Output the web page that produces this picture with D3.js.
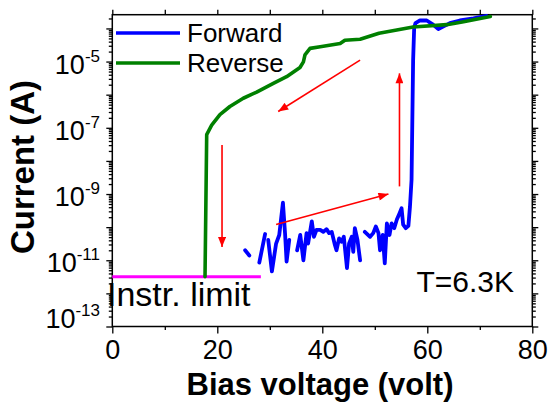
<!DOCTYPE html>
<html><head><meta charset="utf-8">
<script src="https://cdn.jsdelivr.net/npm/d3@7"></script>
<style>
body{margin:0;background:#fff}
svg{display:block}
text{font-family:"Liberation Sans",Arial,Helvetica,sans-serif;fill:#000}
</style>
</head><body>
<svg id="chart" width="552" height="404"></svg>
<script>
// ---- data ----
const xTickValues = [0, 20, 40, 60, 80];
const xMinorTicks = [10, 30, 50, 70];
const yLabelExps = [-5, -7, -9, -11, -13];

// Forward sweep (null = gap in data)
const fwdV = [25.3,26.1,26.8, 28.0,29.1,29.4, 29.7,30.4,31.2,31.8,32.5,32.9,33.2,33.7,34.5,
  35.2,35.8,36.4,37.0,37.3,38.0,38.4,38.9,39.6,40.2,40.8,41.3,41.8,42.4,42.7,43.2,43.7,44.1,44.7,45.1,45.6,45.9,46.2,46.7,47.2,47.6,
  48.1,49.1,49.7,50.2,50.7,51.0,51.5,51.9,52.3,52.8,53.2,53.7,54.2,54.7,55.1,55.4,55.9,56.4,56.7,57.0,57.3,57.5,57.75,58.6,59.9,61.1,62.1,63.1,64.3,66.2,68.8,71.3];
const fwdI = [2.0e-11,1.4e-11,null, 8.5e-12,6.2e-11,null, 4.1e-11,4.6e-12,3.2e-11,5.8e-11,5.5e-10,6.6e-11,9.1e-12,4.1e-11,null,
  2.0e-11,5.8e-11,1.0e-11,6.6e-11,3.2e-11,1.5e-10,5.1e-11,8.3e-11,8.3e-11,7.2e-11,8.7e-11,6.6e-11,7.2e-11,2.9e-11,2.0e-11,4.6e-11,3.6e-11,5.1e-11,5.8e-12,3.2e-11,5.1e-11,1.8e-11,9.3e-11,4.1e-11,1.0e-11,null,
  7.2e-11,5.1e-11,6.6e-11,1.05e-10,6.6e-11,2.0e-11,5.8e-11,8.1e-12,1.3e-10,5.8e-11,1.3e-10,9.3e-11,1.7e-10,2.6e-10,3.7e-10,1.2e-10,9.3e-11,1.1e-10,4.2e-10,2.7e-9,1.1e-5,1.05e-4,1.45e-4,1.74e-4,1.74e-4,1.3e-4,9.5e-5,1.15e-4,1.45e-4,1.74e-4,2.0e-4,2.4e-4];

// Reverse sweep
const revV = [17.66,17.98,18.93,20.5,22.4,24.95,27.5,30.67,33.2,35.75,36.4,36.7,37.66,39.6,43.4,44.3,47.2,50.8,57.3,63.7,66.9,72.0];
const revI = [3.2e-12,6.2e-8,1.2e-7,2.5e-7,4.4e-7,7.8e-7,1.2e-6,2.2e-6,3.5e-6,6.6e-6,9.8e-6,1.6e-5,2.5e-5,2.8e-5,3.5e-5,4.4e-5,4.7e-5,7.2e-5,1.1e-4,1.3e-4,1.6e-4,2.3e-4];

// Instrument limit
const limitV = [0, 28.3];
const limitI = [3.2e-12, 3.2e-12];

// Red arrows (start -> end)
const arrowV0 = [47.2, 20.9, 31.2, 54.7];
const arrowI0 = [1.1e-5, 3.0e-8, 1.2e-10, 1.7e-9];
const arrowV1 = [31.6, 20.9, 52.6, 54.7];
const arrowI1 = [3.1e-7, 2.5e-11, 1.0e-9, 4.4e-6];

const seriesNames = ["Forward", "Reverse"];
const seriesColors = ["#0000ff", "#008000"];

// ---- chart ----
const svg = d3.select("#chart");
const x = d3.scaleLinear().domain([0, 80]).range([112.3, 532.3]);
const y = d3.scaleLog().domain([1e-13, 2.6e-4]).range([326.5, 14.7]);

const majorY = d3.range(-13, -3).map(e => Math.pow(10, e));
const minorY = [];
for (let e = -13; e <= -4; e++) for (let m = 2; m <= 9; m++) {
  const v = m * Math.pow(10, e);
  if (v <= 2.6e-4) minorY.push(v);
}

function styleAxis(g) {
  g.select(".domain").remove();
  g.selectAll("line").attr("stroke", "#000").attr("stroke-width", 1.3);
}
// bottom
svg.append("g").attr("transform", `translate(0,${y.range()[0]})`)
  .call(d3.axisBottom(x).tickValues(xMinorTicks).tickSize(3.5).tickFormat("")).call(styleAxis);
const gx = svg.append("g").attr("transform", `translate(0,${y.range()[0]})`)
  .call(d3.axisBottom(x).tickValues(xTickValues).tickSize(7).tickPadding(6).tickFormat(d3.format("d")));
styleAxis(gx);
gx.selectAll("text").attr("font-size", 27).attr("font-family", '"Liberation Sans",Arial,sans-serif').attr("fill", "#000");
// top
svg.append("g").attr("transform", `translate(0,${y.range()[1]})`)
  .call(d3.axisTop(x).tickValues(d3.range(0, 81, 10)).tickSize(5).tickFormat("")).call(styleAxis);
// left
svg.append("g").attr("transform", `translate(${x.range()[0]},0)`)
  .call(d3.axisLeft(y).tickValues(majorY).tickSize(6).tickFormat("")).call(styleAxis);
svg.append("g").attr("transform", `translate(${x.range()[0]},0)`)
  .call(d3.axisLeft(y).tickValues(minorY).tickSize(3.5).tickFormat("")).call(styleAxis);
// right
svg.append("g").attr("transform", `translate(${x.range()[1]},0)`)
  .call(d3.axisRight(y).tickValues(majorY).tickSize(6).tickFormat("")).call(styleAxis);
svg.append("g").attr("transform", `translate(${x.range()[1]},0)`)
  .call(d3.axisRight(y).tickValues(minorY).tickSize(3.5).tickFormat("")).call(styleAxis);

// frame
svg.append("rect").attr("x", x.range()[0]).attr("y", y.range()[1])
  .attr("width", x.range()[1] - x.range()[0]).attr("height", y.range()[0] - y.range()[1])
  .attr("fill", "none").attr("stroke", "#000").attr("stroke-width", 1.5);

// y labels with superscripts
yLabelExps.forEach(e => {
  const off = e === -13 ? 1 : 12;
  const t = svg.append("text").attr("x", 100).attr("y", y(Math.pow(10, e)) + off)
    .attr("text-anchor", "end").attr("font-size", 27);
  t.append("tspan").text("10");
  t.append("tspan").attr("dy", -12).attr("font-size", 17).text(String(e));
});

// axis titles
svg.append("text").attr("x", 320).attr("y", 395)
  .attr("text-anchor", "middle").attr("font-size", 31).attr("font-weight", "bold")
  .text("Bias voltage (volt)");
svg.append("text").attr("transform", `translate(34,167) rotate(-90)`)
  .attr("text-anchor", "middle").attr("font-size", 33).attr("font-weight", "bold")
  .text("Current (A)");

// defs: arrow marker
svg.append("defs").append("marker").attr("id", "ah")
  .attr("viewBox", "0 0 10 8").attr("refX", 10).attr("refY", 4)
  .attr("markerWidth", 11).attr("markerHeight", 8).attr("markerUnits", "userSpaceOnUse")
  .attr("orient", "auto")
  .append("path").attr("d", "M0,0 L10,4 L0,8 Z").attr("fill", "#ff0000");

const line = d3.line().defined(d => d[1] != null).x(d => x(d[0])).y(d => y(d[1]));

// annotations text (drawn beneath curves)
svg.append("text").attr("x", 107).attr("y", 306).attr("font-size", 34).text("Instr. limit");
svg.append("text").attr("x", 514).attr("y", 292).attr("text-anchor", "end").attr("font-size", 30).text("T=6.3K");

// instrument limit
svg.append("path").datum(limitV.map((v, i) => [v, limitI[i]]))
  .attr("d", line).attr("fill", "none").attr("stroke", "#ff00ff").attr("stroke-width", 3);

// forward
svg.append("path").datum(fwdV.map((v, i) => [v, fwdI[i]]))
  .attr("d", line).attr("fill", "none").attr("stroke", seriesColors[0]).attr("stroke-width", 3.8)
  .attr("stroke-linejoin", "round").attr("stroke-linecap", "round");
// reverse
svg.append("path").datum(revV.map((v, i) => [v, revI[i]]))
  .attr("d", line).attr("fill", "none").attr("stroke", seriesColors[1]).attr("stroke-width", 3.6)
  .attr("stroke-linejoin", "round").attr("stroke-linecap", "round");

// arrows
arrowV0.forEach((v, i) => {
  svg.append("line").attr("x1", x(v)).attr("y1", y(arrowI0[i]))
    .attr("x2", x(arrowV1[i])).attr("y2", y(arrowI1[i]))
    .attr("stroke", "#ff0000").attr("stroke-width", 1.6).attr("marker-end", "url(#ah)");
});

// legend
seriesNames.forEach((n, i) => {
  const ly = 33 + i * 30;
  svg.append("line").attr("x1", 116).attr("x2", 180).attr("y1", ly).attr("y2", ly)
    .attr("stroke", seriesColors[i]).attr("stroke-width", 3.6);
  svg.append("text").attr("x", 187).attr("y", ly + 9).attr("font-size", 26).text(n);
});
</script>
</body></html>
